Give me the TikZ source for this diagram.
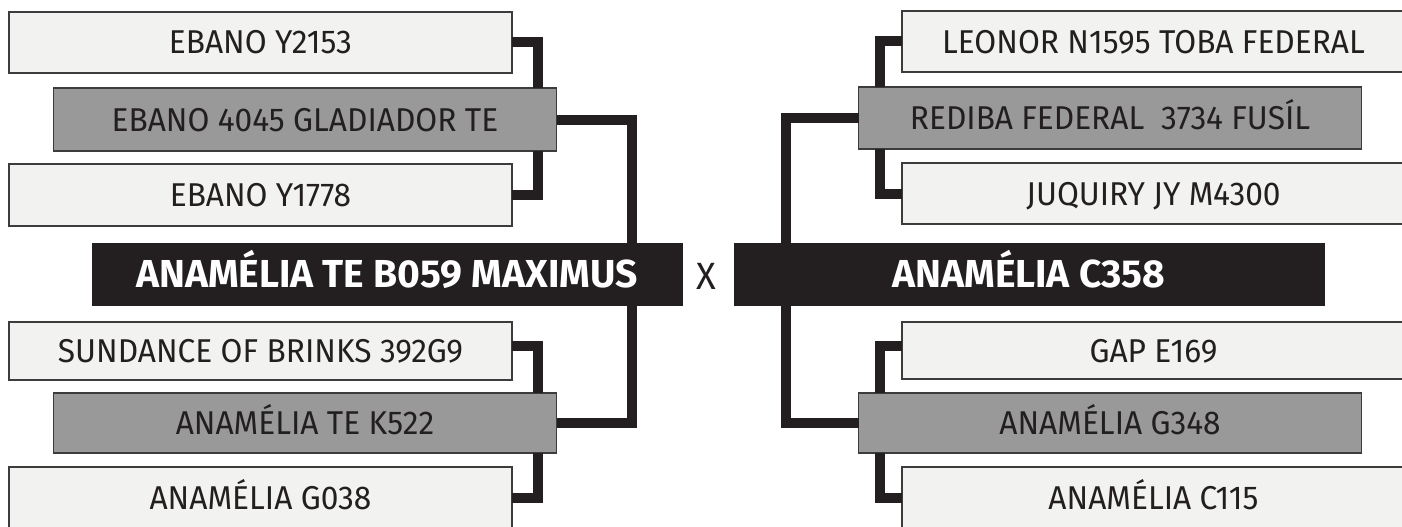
\documentclass[tikz,border=0pt]{standalone}
\usepackage{fontspec}
\setmainfont{Fira Sans}[FakeStretch=0.96]
\newfontfamily\titlefont{Fira Sans Bold}
\definecolor{ink}{HTML}{231F20}
\definecolor{lightfill}{HTML}{F2F2F0}
\definecolor{midfill}{HTML}{999999}
\definecolor{edge}{HTML}{3C3C3C}
\tikzset{
  box/.style={draw=edge, line width=1.2pt, inner sep=0pt, outer sep=0pt, text=ink,
    font=\fontsize{33}{36}\selectfont, text height=23pt, text depth=-2pt},
  light/.style={box, fill=lightfill, minimum width=503pt},
  mid/.style={box, fill=midfill, minimum width=503pt},
  champ/.style={fill=ink, text=white, inner sep=0pt, outer sep=0pt, minimum width=591pt,
    minimum height=63pt, font=\titlefont\fontsize{39}{42}\selectfont, text height=27pt, text depth=-2.5pt},
  versus/.style={text=ink, inner sep=0pt, font=\fontsize{38}{42}\selectfont, text height=27pt, text depth=0pt},
  conn/.style={draw=ink, line width=10pt},
}
\begin{document}
\begin{tikzpicture}[x=1pt,y=-1pt]
\clip (0,0) rectangle (1402,527);
% left side
\node[light, minimum height=61pt] (b1) at (260.5,42.5) {EBANO Y2153};
\node[mid,   minimum height=63pt] (b2) at (305,119.5) {EBANO 4045 GLADIADOR TE};
\node[light, minimum height=62pt] (b3) at (260.5,195) {EBANO Y1778};
\node[champ] (tL) at (387,274) {ANAMÉLIA TE B059 MAXIMUS};
\node[light, minimum height=58pt] (b4) at (260.5,351) {SUNDANCE OF BRINKS 392G9};
\node[mid,   minimum height=60pt] (b5) at (305,423) {ANAMÉLIA TE K522};
\node[light, minimum height=61pt] (b6) at (260.5,497.5) {ANAMÉLIA G038};
% right side
\node[light, minimum height=61pt] (r1) at (1153.5,41.5) {LEONOR N1595 TOBA FEDERAL};
\node[mid,   minimum height=62pt] (r2) at (1110,118) {REDIBA FEDERAL\ \ 3734 FUSÍL};
\node[light, minimum height=61pt] (r3) at (1153.5,193.5) {JUQUIRY JY M4300};
\node[champ] (tR) at (1029,274) {ANAMÉLIA C358};
\node[light, minimum height=57pt] (r4) at (1153.5,350.5) {GAP E169};
\node[mid,   minimum height=60pt] (r5) at (1110,423) {ANAMÉLIA G348};
\node[light, minimum height=61pt] (r6) at (1153.5,497.5) {ANAMÉLIA C115};
\node[versus] (vs) at (706,276) {X};
% connector columns
\coordinate (cL) at (538,0);
\coordinate (kL) at (632,0);
\coordinate (cR) at (879.5,0);
\coordinate (kR) at (786,0);
% connectors left
\draw[conn] (b1.east) -| (cL |- b2.north);
\draw[conn] (b3.east) -| (cL |- b2.south);
\draw[conn] (b2.east) -| (kL |- tL.north);
\draw[conn] ([yshift=5pt]b4.east) -| (cL |- b5.north);
\draw[conn] (b6.east) -| (cL |- b5.south);
\draw[conn] (b5.east) -| (kL |- tL.south);
% connectors right
\draw[conn] (r1.west) -| (cR |- r2.north);
\draw[conn] (r3.west) -| (cR |- r2.south);
\draw[conn] (r2.west) -| (kR |- tR.north);
\draw[conn] ([yshift=5pt]r4.west) -| (cR |- r5.north);
\draw[conn] (r6.west) -| (cR |- r5.south);
\draw[conn] (r5.west) -| (kR |- tR.south);
\end{tikzpicture}
\end{document}
